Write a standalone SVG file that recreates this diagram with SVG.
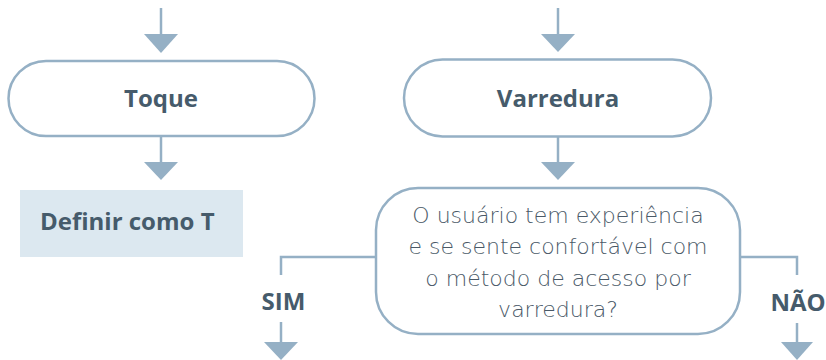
<svg xmlns="http://www.w3.org/2000/svg" width="826" height="360" viewBox="0 0 826 360">
<style>
.conn{stroke:#95b0c5;stroke-width:2.5;fill:none}
.head{fill:#95b0c5}
.term{fill:#ffffff;stroke:#95b0c5;stroke-width:2.5}
.proc{fill:#dce8f0}
.lbl{font-family:"Open Sans","Liberation Sans",sans-serif;font-weight:700;font-size:24px;fill:#465b6b}
.q{font-family:"DejaVu Sans ExtraLight","DejaVu Sans",sans-serif;font-weight:200;font-size:22px;fill:#4a5967;text-anchor:middle}
</style>
<rect width="826" height="360" fill="#ffffff"/>
<g id="connectors">
  <line class="conn" x1="161" y1="8" x2="161" y2="36"/>
  <polygon class="head" points="144,34 178,34 161,53"/>
  <line class="conn" x1="558" y1="8" x2="558" y2="36"/>
  <polygon class="head" points="541,34 575,34 558,52"/>
  <line class="conn" x1="161" y1="137" x2="161" y2="164"/>
  <polygon class="head" points="144,162 178,162 161,180"/>
  <line class="conn" x1="558" y1="137" x2="558" y2="164"/>
  <polygon class="head" points="541,162 575,162 558,180"/>
  <path class="conn" d="M376,257 H281 V275"/>
  <line class="conn" x1="281" y1="322" x2="281" y2="344"/>
  <polygon class="head" points="264,342 298,342 281,360"/>
  <path class="conn" d="M740,257 H797 V275"/>
  <line class="conn" x1="797" y1="323" x2="797" y2="344"/>
  <polygon class="head" points="781,342 813,342 797,360"/>
</g>
<g id="toque">
  <rect class="term" x="8.5" y="61" width="306" height="75" rx="37.5"/>
  <text class="lbl" x="161" y="107" text-anchor="middle">Toque</text>
</g>
<g id="varredura">
  <rect class="term" x="404" y="59.5" width="307" height="77" rx="38.5"/>
  <text class="lbl" x="558" y="107" text-anchor="middle">Varredura</text>
</g>
<g id="definir">
  <rect class="proc" x="20" y="190" width="223" height="67"/>
  <text class="lbl" x="40" y="230">Definir como T</text>
</g>
<g id="decisao">
  <rect class="term" x="376" y="188" width="364" height="146" rx="42"/>
  <text class="q" x="558" y="223">O usuário tem experiência</text>
  <text class="q" x="558" y="254">e se sente confortável com</text>
  <text class="q" x="558" y="286">o método de acesso por</text>
  <text class="q" x="558" y="317">varredura?</text>
</g>
<g id="sim">
  <text class="lbl" x="283.5" y="310" text-anchor="middle">SIM</text>
</g>
<g id="nao">
  <text class="lbl" x="798" y="311" text-anchor="middle">NÃO</text>
</g>
</svg>
